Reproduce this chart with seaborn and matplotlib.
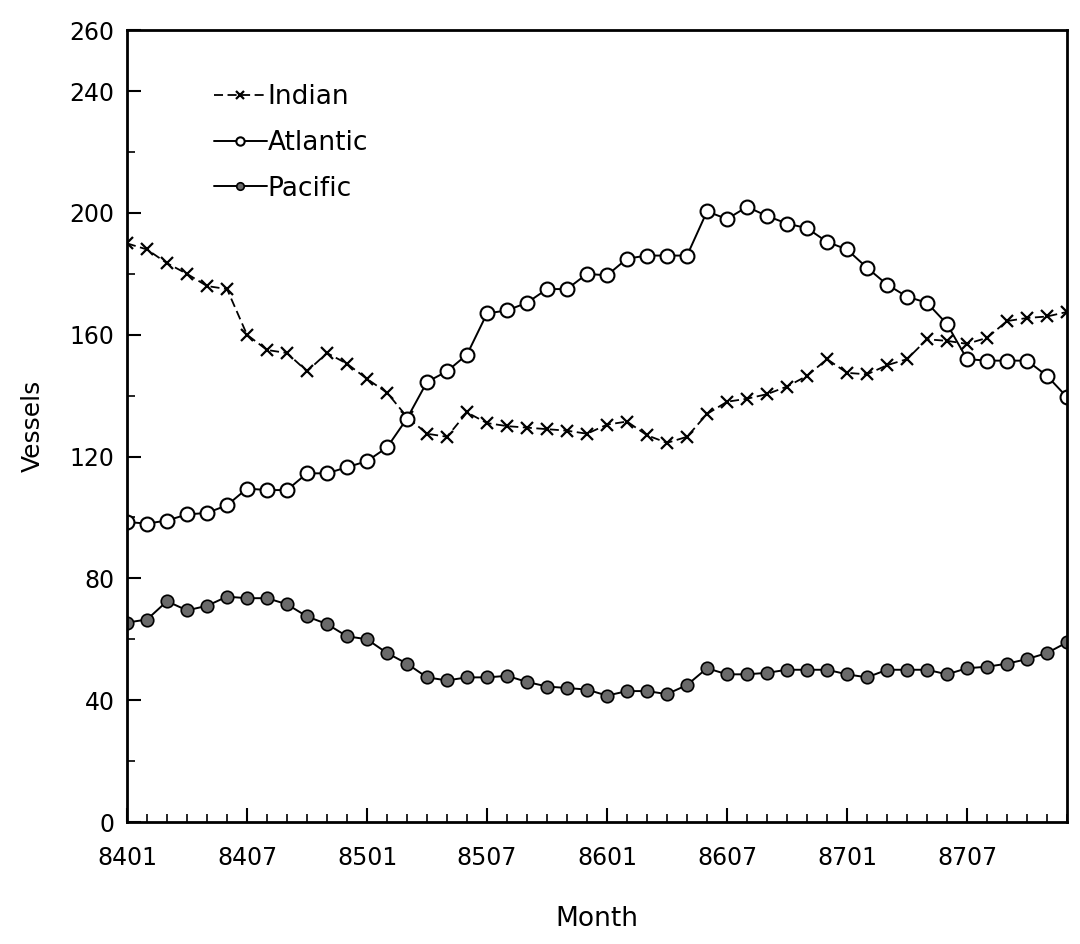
import numpy as np
import pandas as pd
import seaborn as sns
import matplotlib
matplotlib.use("Agg")
import matplotlib.pyplot as plt

# Monthly vessel counts, 8401 .. 8712 (48 months)
indian = [190, 188, 183.5, 180, 176, 175, 160, 155, 154, 148, 154, 150.5,
          145.5, 141, 133, 127.5, 126.5, 134.5, 131, 130, 129.5, 129, 128.5, 127.5,
          130.5, 131.5, 127, 124.5, 126.5, 134, 138, 139,
          140.5, 143, 146.5, 152, 147.5, 147, 150, 152,
          158.5, 158, 157, 159, 164.5, 165.5, 166, 167.5]
atlantic = [98.5, 98, 99, 101, 101.5, 104, 109.5, 109, 109, 114.5, 114.5, 116.5,
            118.5, 123, 132.5, 144.5, 148, 153.5, 167, 168, 170.5, 175, 175, 180,
            179.5, 185, 186, 186, 186, 200.5, 198, 202,
            199, 196.5, 195, 190.5, 188, 182, 176.5, 172.5,
            170.5, 163.5, 152, 151.5, 151.5, 151.5, 146.5, 139.5]
pacific = [65.5, 66.5, 72.5, 69.5, 71, 74, 73.5, 73.5, 71.5, 67.5, 65, 61,
           60, 55.5, 52, 47.5, 46.5, 47.5, 47.5, 48, 46, 44.5, 44, 43.5,
           41.5, 43, 43, 42, 45, 50.5, 48.5, 48.5,
           49, 50, 50, 50, 48.5, 47.5, 50, 50,
           50, 48.5, 50.5, 51, 52, 53.5, 55.5, 59]

xtick_labels = ["8401", "8407", "8501", "8507", "8601", "8607", "8701", "8707"]
ytick_values = [0, 40, 80, 120, 160, 200, 240, 260]

sns.set_style("ticks")
plt.rcParams['font.family'] = ['DejaVu Sans']

month_idx = np.arange(len(indian))
df = pd.DataFrame({"month": month_idx, "Indian": indian,
                   "Atlantic": atlantic, "Pacific": pacific})

fig = plt.figure(figsize=(10.8, 9.44), dpi=100)
ax = fig.add_axes([0.1176, 0.1292, 0.8704, 0.8388])

sns.lineplot(data=df, x="month", y="Indian", ax=ax, color="black",
             linestyle=(0, (5, 2.5)), linewidth=1.3, marker="x", markersize=9,
             markeredgewidth=1.6, markeredgecolor="black", label="Indian")
sns.lineplot(data=df, x="month", y="Atlantic", ax=ax, color="black",
             linewidth=1.4, marker="o", markersize=10, markerfacecolor="white",
             markeredgecolor="black", markeredgewidth=1.5, label="Atlantic")
sns.lineplot(data=df, x="month", y="Pacific", ax=ax, color="black",
             linewidth=1.4, marker="o", markersize=9, markerfacecolor="#6a6a6a",
             markeredgecolor="black", markeredgewidth=1.2, label="Pacific")

ax.set_xlim(0, len(indian) - 1)
ax.set_ylim(0, 260)

ax.set_xticks(month_idx[::6])
ax.set_xticklabels(xtick_labels)
ax.set_xticks(month_idx, minor=True)
ax.set_yticks(ytick_values)
ax.set_yticks(np.arange(0, 261, 20), minor=True)

ax.tick_params(axis="both", which="major", direction="in", length=10, width=1.5,
               labelsize=17, color="black", labelcolor="black")
ax.tick_params(axis="x", which="major", pad=17)
ax.tick_params(axis="y", which="major", pad=9)
ax.tick_params(axis="both", which="minor", direction="in", length=6, width=1.2,
               color="black")
ax.tick_params(axis="y", which="both", right=False)
ax.tick_params(axis="x", which="both", top=False)

for s in ax.spines.values():
    s.set_visible(True)
    s.set_linewidth(2)
    s.set_color("black")

ax.set_xlabel("Month", fontsize=19, labelpad=26, color="black")
ax.set_ylabel("Vessels", fontsize=18, labelpad=18, color="black")

leg = ax.legend(loc="upper left", bbox_to_anchor=(0.067, 0.962), frameon=False,
                fontsize=19, handlelength=2.0, handletextpad=0.05,
                labelspacing=0.75, markerscale=0.6)
for t in leg.get_texts():
    t.set_color("black")

fig.savefig("out.png", dpi=100, facecolor="white")
